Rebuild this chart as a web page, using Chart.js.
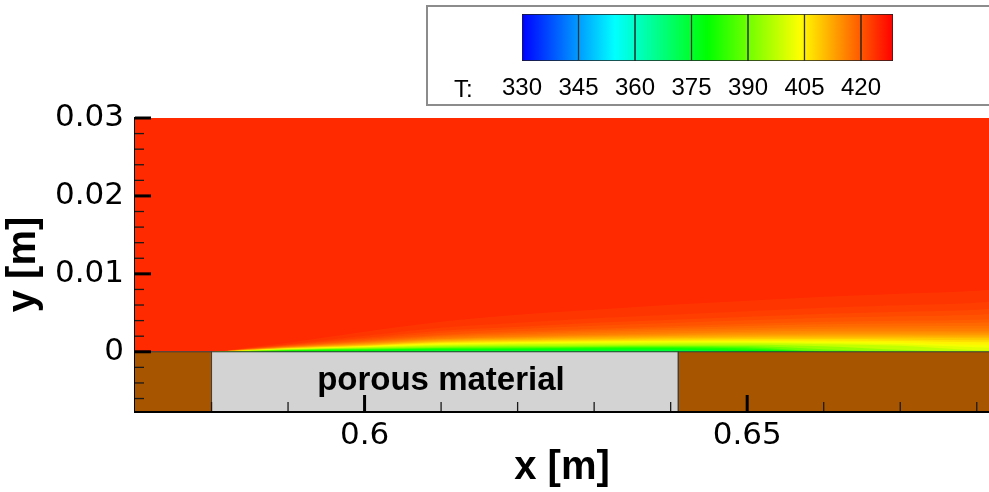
<!DOCTYPE html>
<html>
<head>
<meta charset="utf-8">
<script src="https://cdn.jsdelivr.net/npm/chart.js@4.4.1/dist/chart.umd.min.js"></script>
<style>
  html, body { margin: 0; padding: 0; background: #fff; }
  #wrap { position: relative; width: 989px; height: 492px; overflow: hidden; background: #fff; }
  #main { position: absolute; left: 0; top: 0; }
  #legendBox { position: absolute; left: 426px; top: 5px; width: 620px; height: 101px; box-sizing: border-box; border: 2px solid #8c8c8c; background: #fff; }
  #cbar { position: absolute; left: 428px; top: 7px; }
  #tLabel { position: absolute; left: 454px; top: 77px; font-family: 'Liberation Sans Narrow', 'Liberation Sans', sans-serif; font-size: 24px; line-height: 24px; color: #000; white-space: nowrap; }
</style>
</head>
<body>
<div id="wrap">
  <canvas id="main" width="989" height="492"></canvas>
  <div id="legendBox"></div>
  <canvas id="cbar" width="561" height="97"></canvas>
  <div id="tLabel">T:</div>
</div>
<script>
// ---------------- data ----------------
const xMin = 0.57, xMax = 0.6816;
const yMin = -0.0076, yMax = 0.03;

const xMajorTicks = [0.6, 0.65];
const xMinorTicks = [0.58, 0.59, 0.61, 0.62, 0.63, 0.64, 0.66, 0.67, 0.68];
const yMajorTicks = [0, 0.01, 0.02, 0.03];
const yMinorTicks = [-0.006, -0.004, -0.002, 0.002, 0.004, 0.006, 0.008, 0.012, 0.014, 0.016, 0.018, 0.022, 0.024, 0.026, 0.028];

// solid regions below the wall: wall | porous material | wall
const solidEdges = [0.57, 0.58, 0.641, 0.6816];
const solidKinds = ['wall', 'porous', 'wall'];
const porousLabel = 'porous material';

// temperature colour map range and free-stream temperature
const tMin = 330, tMax = 428.5;
const freeStreamT = 424.4;

// colour bar
const cbEdges = [330, 345, 360, 375, 390, 405, 420, 428.5];
const cbTicks = [330, 345, 360, 375, 390, 405, 420];

// isotherm heights above the wall (mm) at each x station
const xStations = [0.57, 0.58, 0.585, 0.59, 0.60, 0.61, 0.62, 0.63, 0.64, 0.65, 0.66, 0.67, 0.68, 0.6816];
const isoLevels = [374, 377, 380, 384, 388, 392, 396, 400, 402, 404, 406, 408, 410, 411, 412, 413, 414, 415, 416, 417, 418, 419, 420, 421, 422, 423, 423.8];
const iso374  = [0, 0, 0,    0,    0.06, 0.12, 0.13, 0.14, 0.15, 0,    0,    0,    0,    0];
const iso377  = [0, 0, 0,    0.06, 0.14, 0.22, 0.24, 0.27, 0.30, 0.10, 0,    0,    0,    0];
const iso380  = [0, 0, 0,    0.12, 0.21, 0.31, 0.35, 0.39, 0.41, 0.23, 0,    0,    0,    0];
const iso384  = [0, 0, 0.04, 0.17, 0.28, 0.41, 0.46, 0.51, 0.54, 0.41, 0,    0,    0,    0];
const iso388  = [0, 0, 0.06, 0.21, 0.35, 0.50, 0.56, 0.62, 0.64, 0.58, 0.06, 0,    0,    0];
const iso392  = [0, 0, 0.09, 0.24, 0.41, 0.59, 0.67, 0.72, 0.74, 0.73, 0.32, 0,    0,    0];
const iso396  = [0, 0, 0.12, 0.28, 0.49, 0.71, 0.80, 0.85, 0.90, 0.90, 0.71, 0.26, 0,    0];
const iso400  = [0, 0, 0.14, 0.33, 0.58, 0.83, 0.96, 1.03, 1.07, 1.09, 0.96, 0.77, 0.19, 0.13];
const iso402  = [0, 0, 0.15, 0.36, 0.62, 0.92, 1.08, 1.16, 1.21, 1.22, 1.13, 0.98, 0.58, 0.51];
const iso404  = [0, 0, 0.17, 0.39, 0.67, 1.03, 1.19, 1.28, 1.35, 1.35, 1.28, 1.16, 0.90, 0.90];
const iso406  = [0, 0, 0.19, 0.41, 0.72, 1.12, 1.27, 1.36, 1.43, 1.46, 1.44, 1.37, 1.22, 1.22];
const iso408  = [0, 0, 0.21, 0.44, 0.78, 1.21, 1.39, 1.49, 1.57, 1.63, 1.63, 1.59, 1.48, 1.48];
const iso410  = [0, 0, 0.23, 0.48, 0.83, 1.28, 1.48, 1.61, 1.73, 1.80, 1.80, 1.80, 1.73, 1.73];
const iso411  = [0, 0, 0.24, 0.49, 0.88, 1.35, 1.55, 1.69, 1.82, 1.89, 1.93, 1.93, 1.86, 1.86];
const iso412  = [0, 0, 0.26, 0.51, 0.92, 1.41, 1.63, 1.80, 1.93, 1.99, 2.05, 2.05, 1.99, 1.99];
const iso413  = [0, 0, 0.27, 0.54, 0.98, 1.48, 1.71, 1.89, 2.02, 2.12, 2.18, 2.18, 2.14, 2.14];
const iso414  = [0, 0, 0.28, 0.56, 1.03, 1.54, 1.80, 1.99, 2.12, 2.25, 2.31, 2.31, 2.31, 2.31];
const iso415  = [0, 0, 0.30, 0.59, 1.09, 1.61, 1.87, 2.08, 2.25, 2.40, 2.50, 2.50, 2.47, 2.47];
const iso416  = [0, 0, 0.31, 0.62, 1.16, 1.67, 1.96, 2.18, 2.38, 2.57, 2.70, 2.70, 2.63, 2.63];
const iso417  = [0, 0, 0.33, 0.65, 1.22, 1.80, 2.11, 2.38, 2.59, 2.79, 2.95, 2.98, 2.98, 2.98];
const iso418  = [0, 0, 0.35, 0.68, 1.28, 1.93, 2.25, 2.57, 2.82, 3.02, 3.21, 3.27, 3.34, 3.34];
const iso419  = [0, 0, 0.37, 0.73, 1.37, 2.05, 2.44, 2.76, 3.04, 3.30, 3.53, 3.62, 3.72, 3.75];
const iso420  = [0, 0, 0.39, 0.77, 1.48, 2.18, 2.63, 2.95, 3.27, 3.60, 3.85, 3.98, 4.11, 4.17];
const iso421  = [0, 0, 0.41, 0.83, 1.63, 2.44, 2.91, 3.34, 3.69, 4.04, 4.37, 4.56, 4.75, 4.84];
const iso422  = [0, 0, 0.45, 0.90, 1.80, 2.70, 3.21, 3.72, 4.11, 4.49, 4.88, 5.14, 5.39, 5.52];
const iso423  = [0, 0, 0.49, 0.98, 2.05, 3.08, 3.72, 4.30, 4.75, 5.20, 5.65, 5.97, 6.29, 6.42];
const iso4238 = [0, 0, 0.58, 1.16, 2.57, 3.85, 4.75, 5.39, 6.03, 6.55, 7.06, 7.45, 7.83, 7.96];
const isoHeights = [iso374, iso377, iso380, iso384, iso388, iso392, iso396, iso400, iso402, iso404,
                    iso406, iso408, iso410, iso411, iso412, iso413, iso414, iso415, iso416, iso417,
                    iso418, iso419, iso420, iso421, iso422, iso423, iso4238];

// ---------------- styling helpers ----------------
const cmapStops = [[0, [0, 0, 255]], [0.25, [0, 255, 255]], [0.5, [0, 255, 0]], [0.75, [255, 255, 0]], [1, [255, 0, 0]]];
function cmap(T) {
  let t = (T - tMin) / (tMax - tMin);
  t = Math.max(0, Math.min(1, t));
  for (let i = 1; i < cmapStops.length; i++) {
    const [t1, c1] = cmapStops[i];
    const [t0, c0] = cmapStops[i - 1];
    if (t <= t1) {
      const f = (t - t0) / (t1 - t0);
      const c = c0.map((v, k) => Math.round(v + (c1[k] - v) * f));
      return `rgb(${c[0]},${c[1]},${c[2]})`;
    }
  }
  return 'rgb(255,0,0)';
}
const solidColors = { wall: '#a85500', porous: '#d3d3d3' };
const tickFont = { family: "'DejaVu Sans', sans-serif", size: 31, lineHeight: 1 };
const titleFont = { family: "'Liberation Sans', Arial, sans-serif", size: 40, weight: 'bold', lineHeight: 1 };
const fmt = v => String(+v.toFixed(4));

// ---------------- main chart datasets ----------------
const datasets = [];
datasets.push({ label: 'wall line', data: [{ x: xMin, y: 0 }, { x: xMax, y: 0 }],
  borderColor: '#303838', borderWidth: 1, fill: false, pointRadius: 0 });
[solidEdges[1], solidEdges[2]].forEach(xe => datasets.push({
  label: 'edge', data: [{ x: xe, y: 0 }, { x: xe, y: yMin }],
  borderColor: '#404040', borderWidth: 1, fill: false, pointRadius: 0 }));
isoLevels.forEach((L, i) => {
  const mid = i === 0 ? L - 1 : (L + isoLevels[i - 1]) / 2;
  datasets.push({
    label: 'T = ' + L,
    data: xStations.map((x, k) => ({ x: x, y: isoHeights[i][k] / 1000 })),
    fill: 'origin', backgroundColor: cmap(mid), borderColor: 'transparent', borderWidth: 0,
    pointRadius: 0, cubicInterpolationMode: 'monotone'
  });
});
solidKinds.forEach((kind, i) => datasets.push({
  label: kind, data: [{ x: solidEdges[i], y: 0 }, { x: solidEdges[i + 1], y: 0 }],
  fill: 'start', backgroundColor: solidColors[kind], borderColor: 'transparent', borderWidth: 0, pointRadius: 0
}));
datasets.push({ label: 'free stream', data: [{ x: xMin, y: 0 }, { x: xMax, y: 0 }],
  fill: 'end', backgroundColor: cmap(freeStreamT), borderColor: 'transparent', borderWidth: 0, pointRadius: 0 });

const decor = {
  id: 'decor',
  afterDatasetsDraw(chart) {
    const { ctx, chartArea: a, scales: { x, y } } = chart;
    ctx.save();
    const tick = (px, py, dx, dy, w, c) => {
      ctx.lineWidth = w; ctx.strokeStyle = c;
      ctx.beginPath(); ctx.moveTo(px, py); ctx.lineTo(px + dx, py + dy); ctx.stroke();
    };
    yMinorTicks.forEach(v => tick(a.left, y.getPixelForValue(v), 9, 0, 1.3, '#1a1a1a'));
    yMajorTicks.forEach(v => tick(a.left, y.getPixelForValue(v), 16, 0, 3, '#000'));
    xMinorTicks.forEach(v => tick(x.getPixelForValue(v), a.bottom, 0, -9, 1.3, '#1a1a1a'));
    xMajorTicks.forEach(v => tick(x.getPixelForValue(v), a.bottom, 0, -16, 3, '#000'));
    ctx.font = "bold 33px 'Liberation Sans', Arial, sans-serif";
    ctx.fillStyle = '#000'; ctx.textAlign = 'center'; ctx.textBaseline = 'alphabetic';
    const cx = x.getPixelForValue((solidEdges[1] + solidEdges[2]) / 2) - 4;
    const cy = y.getPixelForValue(yMin / 2);
    ctx.fillText(porousLabel, cx, cy + 8.5);
    ctx.restore();
  }
};

new Chart(document.getElementById('main'), {
  type: 'line',
  data: { datasets },
  plugins: [decor],
  options: {
    responsive: false, animation: false, devicePixelRatio: 1,
    layout: { padding: { top: 118, left: 0, right: 0, bottom: 0 } },
    plugins: { legend: { display: false }, tooltip: { enabled: false } },
    elements: { line: { tension: 0 } },
    scales: {
      x: {
        type: 'linear', min: xMin, max: xMax, z: 1,
        afterBuildTicks: s => { s.ticks = xMajorTicks.map(v => ({ value: v })); },
        afterFit: s => { s.height = 81; },
        grid: { display: false, drawTicks: false },
        border: { display: true, color: '#000', width: 3 },
        ticks: { font: tickFont, color: '#000', padding: 9, maxRotation: 0, callback: v => fmt(v) },
        title: { display: true, text: 'x [m]', font: titleFont, color: '#000', padding: { top: 0, bottom: 4 } }
      },
      y: {
        type: 'linear', min: yMin, max: yMax, z: 1,
        afterBuildTicks: s => { s.ticks = yMajorTicks.map(v => ({ value: v })); },
        afterFit: s => { s.width = 135; },
        grid: { display: false, drawTicks: false },
        border: { display: true, color: '#000', width: 3 },
        ticks: { font: tickFont, color: '#000', padding: 11, callback: v => fmt(v) },
        title: { display: true, text: 'y [m]', font: titleFont, color: '#000', padding: { top: 4, bottom: 0 } }
      }
    }
  }
});

// ---------------- colour bar ----------------
function cbGradient(context) {
  const chart = context.chart;
  if (!chart.chartArea) return '#888';
  const xs = chart.scales.x;
  const x0 = xs.getPixelForValue(tMin), x1 = xs.getPixelForValue(tMax);
  const g = chart.ctx.createLinearGradient(x0, 0, x1, 0);
  cmapStops.forEach(([t, c]) => g.addColorStop(t, `rgb(${c[0]},${c[1]},${c[2]})`));
  return g;
}
const cbDatasets = cbEdges.slice(0, -1).map((lo, i) => ({
  label: 'band ' + i, data: [[lo, cbEdges[i + 1]]],
  backgroundColor: cbGradient, borderColor: '#1e1e1e', borderWidth: 1, borderSkipped: false,
  grouped: false, barPercentage: 1, categoryPercentage: 1
}));
new Chart(document.getElementById('cbar'), {
  type: 'bar',
  data: { labels: ['T'], datasets: cbDatasets },
  options: {
    indexAxis: 'y', responsive: false, animation: false, devicePixelRatio: 1,
    layout: { padding: { top: 7, left: 94, right: 96, bottom: 0 } },
    plugins: { legend: { display: false }, tooltip: { enabled: false } },
    scales: {
      x: {
        type: 'linear', min: tMin, max: tMax, position: 'bottom',
        afterBuildTicks: s => { s.ticks = cbTicks.map(v => ({ value: v })); },
        afterFit: s => { s.height = 43; },
        grid: { display: false, drawTicks: false },
        border: { display: false },
        ticks: { font: { family: "'Liberation Sans Narrow', 'Liberation Sans', sans-serif", size: 24, lineHeight: 1 },
                 color: '#000', padding: 15.5, maxRotation: 0, callback: v => String(v) }
      },
      y: { display: false }
    }
  }
});
</script>
</body>
</html>
